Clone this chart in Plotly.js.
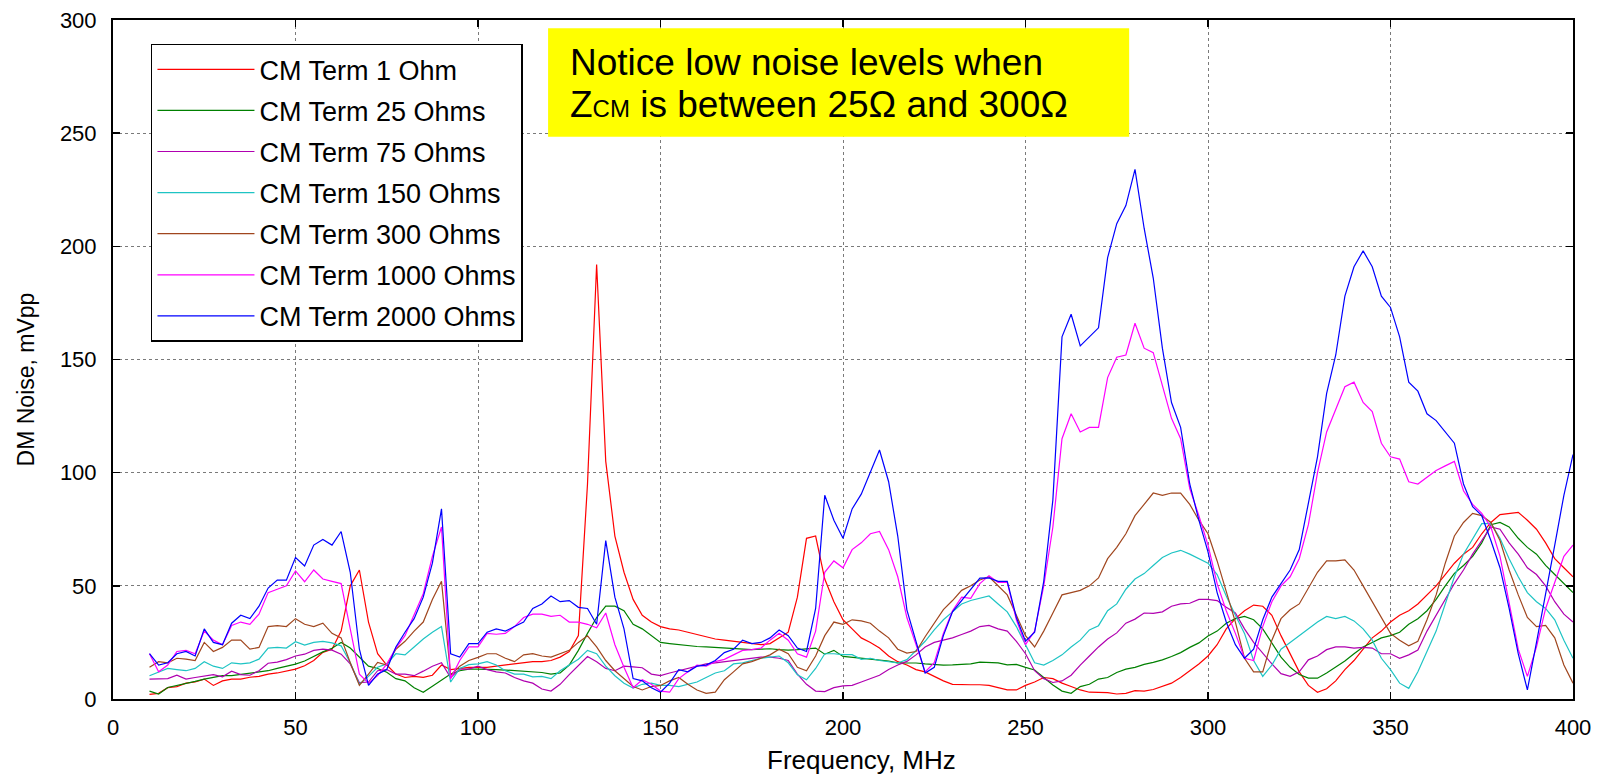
<!DOCTYPE html>
<html>
<head>
<meta charset="utf-8">
<script src="https://cdn.plot.ly/plotly-3.0.1.min.js"></script>
<style>
html,body{margin:0;padding:0;background:#fff;}
#chart{width:1600px;height:776px;}
</style>
</head>
<body>
<div id="chart"></div>
<script>
// Frequency axis (MHz)
const freq = [
 10,12.5,15,17.5, 20,22.5,25,27.5, 30,32.5,35,37.5, 40,42.5,45,47.5, 50,52.5,55,57.5,
 60,62.5,65,67.5, 70,72.5,75,77.5, 80,82.5,85,87.5, 90,92.5,95,97.5, 100,102.5,105,107.5,
 110,112.5,115,117.5, 120,122.5,125,127.5, 130,132.5,135,137.5, 140,142.5,145,147.5, 150,152.5,155,157.5,
 160,162.5,165,167.5, 170,172.5,175,177.5, 180,182.5,185,187.5, 190,192.5,195,197.5, 200,202.5,205,207.5,
 210,212.5,215,217.5, 220,222.5,225,227.5, 230,232.5,235,237.5, 240,242.5,245,247.5, 250,252.5,255,257.5,
 260,262.5,265,267.5, 270,272.5,275,277.5, 280,282.5,285,287.5, 290,292.5,295,297.5, 300,302.5,305,307.5,
 310,312.5,315,317.5, 320,322.5,325,327.5, 330,332.5,335,337.5, 340,342.5,345,347.5, 350,352.5,355,357.5,
 360,362.5,365,367.5, 370,372.5,375,377.5, 380,382.5,385,387.5, 390,392.5,395,397.5, 400];

const seriesNames = ["CM Term 1 Ohm","CM Term 25 Ohms","CM Term 75 Ohms","CM Term 150 Ohms",
  "CM Term 300 Ohms","CM Term 1000 Ohms","CM Term 2000 Ohms"];

const term1 = [
 2,2.5,5,5.5, 7,7.5,8.8,6, 8,8.8,8.8,9.6, 10,11,11.5,12.2, 13.2,14.7,17,20.6,
 22,30,50,57, 34,20,15,11, 9.5,10,9.6,10.5, 15,13,13.5,14, 14,14,14.5,15,
 15.4,16,16.5,16.5, 17,18.5,21,28, 95,192,105,72, 56,44,37,34, 32,31,30.5,29.5,
 28.5,27.5,26.5,26, 25.5,25,24.5,24, 24.5,27,29.5,45, 71,72,53,43, 35,31,27,25,
 22.5,19,16.5,15, 13,12,10,8, 6.5,6.3,6.3,6.3, 6,5,4,4, 6,7.5,9.5,9,
 7,5.5,4,3, 3,2.8,2.2,2.5, 3.7,3.5,4.2,5.5, 7,9.5,12.5,15.5, 19,24,31,35.5,
 39,41.5,41,37, 28,20,12,6, 3,4.5,8,13, 17,22,27,30, 34,37,39,42,
 46,50,55,60, 64,67,73,78, 81.5,82,82.5,79, 75,69,62,58, 54];

const term25 = [
 3.5,2.2,5.1,5.9, 6.8,7.8,8.8,9.6, 10.3,10.3,10.8,11.2, 11.8,12.5,13.5,14.5, 15.4,16.8,18.8,20.8,
 22.4,25,22.5,18.5, 14.5,13.5,11.8,9, 8,5,3,5.6, 8.5,11,12.5,13.2, 13.2,13.2,13,12.8,
 12.5,12.3,12,11.7, 11,11.5,15,21.5, 29,36,41,41, 39,33,31,28, 25,24.5,24,23.5,
 23.2,23,22.8,22.5, 22.4,22,21.8,22, 22.2,21.8,21.6,21.8, 22,22.5,19.8,21.5, 18.8,18.5,18,17.6,
 17.2,16.8,16,16, 15.9,15.5,15.1,15, 15.1,15.3,15.5,16.3, 16.3,16,15.1,15.3, 14,12.8,9.5,6.2,
 3.5,2.5,5.5,6.5, 8.8,9.5,11.7,13.2, 14,15.3,16.2,17.3, 18.8,20.5,22.8,24.8, 27.8,30,33.5,35.5,
 36.5,35,31,24.5, 18.5,14,10.8,9.2, 9.2,11.5,14,16.8, 20,23,25,27, 28,29.5,33,35.5,
 39,44,50,55.5, 59,63,69,77, 78,76,71,67, 64,59,55,51, 47];

const term75 = [
 8.8,8.8,9,10.5, 8.8,9.5,10,10.8, 9.8,12.3,10.8,10.5, 12.5,15.8,16.3,17.4, 19,19.8,21.5,22,
 21.6,19.8,15.5,7.2, 7.5,12.5,13,11, 11,10.3,12.3,14.5, 16,9.5,13.2,13.2, 14.5,13,12,11.5,
 9.5,8,7,4.4, 3.5,6.5,10.8,15, 18.8,16.5,13.5,12.5, 14.5,14.2,13.8,11, 10.3,11.5,12.5,13.5,
 14.8,15.5,16,16.5, 17.2,17.8,18,18.5, 18.5,18,17,11, 6.5,3.5,3.3,5, 5.8,6,7.5,9,
 10.5,13,15,16.6, 19.5,23,25,26, 27,28.5,30,32, 32.5,31,30,25.5, 20,12.5,9,7.3,
 8,10.5,15,19, 23,26.5,29.2,33.5, 35.3,38,37.8,38.5, 41,42,42.3,44, 44,43.5,40.5,38,
 31,25,20,15.5, 11.2,10,12,17.3, 19,21.8,23,23, 22.5,22.8,22.5,20, 20,18,19.5,21.6,
 30,37,44,51, 57,64,70,76, 75,69,64,58, 55,50,43,37.5, 34];

const term150 = [
 10.3,12,13.5,13, 12.5,13.5,16.5,14.5, 13.5,16,15.5,16, 17.6,22.5,22.8,22.5, 25.3,23.8,25,25.5,
 24.8,23.5,16,6.5, 10,14,15.5,20, 19.5,23,26.5,29.5, 32,7.5,13.5,15.2, 15.5,16.5,15,12.5,
 11,11,9.8,10, 9,12.5,15,17.6, 21.5,20,14.5,10.3, 7,4.8,6.5,7, 6,6,5.5,6.5,
 7.5,9.5,11.5,12.5, 15.5,16,17,18, 18.5,19,16,10.7, 8.5,13.5,20,20, 19.6,19.6,17.5,18,
 17,16.3,15.9,17.4, 21.5,25.5,30.5,35, 38.5,42,43.5,44.5, 45.5,42,38.5,32, 24,16,15,17,
 19.5,23,26,30.5, 32.4,39,42,48.5, 53,55.4,59,62.5, 64.5,65.7,64,62, 60,55,45.5,37,
 29,17,10,15, 22,25,28,31, 34,36.5,35.5,36.5, 34.5,31,26,18, 13,7,4.7,12,
 21,30,42,54, 64,71,77.5,77.6, 71,62,54,47, 43,40,35,26, 18];

const term300 = [
 14,16.5,16,18, 17.6,17,25,21, 22.8,26,26,22, 22.8,32,32.4,32, 35.5,33,32,33.5,
 29,27,16,6, 11,16.2,15,22, 25.5,30,34,44, 52,10.5,14.5,17, 18.4,20,20,18,
 16.5,19.5,20,19, 18.5,20,21.5,25, 27.9,23,17,12.5, 9,5.5,4,5.5, 6,8,9.5,6.5,
 4,2.5,3,8.5, 12,15.5,16.5,18, 19.5,22,20,14, 12.5,19,28,34, 33,35,34.5,33.5,
 30,27,22,20.3, 21,27.5,33.5,39.5, 43.5,48,50,52.6, 54,50,46,37, 28,23,30,38,
 46,47,48,50, 53.5,62,67,73, 81,86,91,90, 91,91,86,79, 73,61,47,34,
 18,12,12,26, 35.5,39.4,42,49, 56,61,61,61.5, 57,50,43,36, 29,26,23.5,25.5,
 35,46,60,72, 78,82,81,78, 70,57,46,36, 32,32.5,27,15, 7];

const term1000 = [
 20,12,15,21, 21.5,20,30,26, 24,32.5,34,33, 37.5,47,48.5,50, 56.6,51.8,57,53,
 52,51,31,11, 7,10.3,15.4,22.5, 28,37,46.5,63, 76,9,17,23, 23,29,28.6,29,
 32,36,37.5,37.5, 36.5,37,34,34, 33,31.5,38,24, 14,5,8.5,6.5, 3.5,3,9,12,
 15,14.5,16.5,17.5, 19.5,21.5,21.8,22.5, 26,29,26,20, 18.5,30,56,61, 58,66,69,73,
 74,66,54,36, 24,12,16,29, 39,45,44.5,51, 54.5,51.5,51.5,35, 24,30,50,76,
 115,126,118,120, 120,142,151,152, 166,155,153,139, 124,115,93,81, 68,51,39,29,
 18,17,32,43, 50,54,62,77, 100,118,128,138, 140,131,127,113, 107,106,96,95,
 98,101,103,105, 92,86,82,76, 63,42,22,10, 23,40,52,63, 68];

const term2000 = [
 20,15,16,20, 21,19,31,25, 24,33.5,37,35.5, 41,49,52.5,52.5, 62.5,58.8,68,70.5,
 68,74,56,22, 6,11,13,23, 29.5,35.5,45,60, 84,20,18.5,24.5, 24.5,29.5,31,30,
 32,34,40,42, 45.5,43,43.5,40.5, 40,33,70,45, 31,9,8,5, 3,7,13,12,
 14.5,15,17,20.5, 22,26,24.5,25, 27,30.5,28,22.5, 21,40,90,79, 71,84,90.5,100,
 110,96,72,39.4, 26,11.5,14,28, 38.5,43.5,48.5,53.4, 53.5,52,52,36, 25.5,29.5,52,88,
 160,170,156,160, 164,195,210,218, 234,208,186,155, 131,120,95,79, 65,47,34,24,
 18,22,35,45, 51,57,66,87, 107,135,152,178, 191,198,191,178, 173,160,140,136,
 126,123,118,113, 95,85,81,70, 58,40,20,4, 25,46,68,90, 108];

const seriesValues = [term1, term25, term75, term150, term300, term1000, term2000];
const seriesColors = ["#ff0000","#008000","#b000b0","#1ec4c4","#a0461e","#ff00ff","#0000ff"];

const xTicks = [0,50,100,150,200,250,300,350,400];
const yTicks = [0,50,100,150,200,250,300];

const traces = seriesNames.map((name, i) => ({
  x: freq,
  y: seriesValues[i],
  type: "scatter",
  mode: "lines",
  name: name,
  legendgroup: "g" + i,
  line: {color: seriesColors[i], width: 1.2}
}));

const FONT = "Liberation Sans, Arial, sans-serif";

const layout = {
  width: 1600, height: 776,
  margin: {l: 113, r: 27, t: 20, b: 77},
  paper_bgcolor: "#ffffff",
  plot_bgcolor: "#ffffff",
  font: {family: FONT, color: "#000"},
  showlegend: true,
  legend: {
    x: 0.026, y: 0.965, xanchor: "left", yanchor: "top",
    bgcolor: "#ffffff", bordercolor: "#000", borderwidth: 1.5,
    font: {family: FONT, size: 27, color: "#000"},
    tracegroupgap: 3,
    itemwidth: 97
  },
  xaxis: {
    range: [0, 400],
    tickvals: xTicks,
    ticktext: xTicks.map(String),
    showgrid: true, gridcolor: "#7a7a7a", griddash: "dot", gridwidth: 1,
    zeroline: false,
    showline: true, linecolor: "#000", linewidth: 2, mirror: "ticks",
    ticks: "inside", ticklen: 7, tickwidth: 1.5, tickcolor: "#000",
    tickfont: {family: FONT, size: 22, color: "#000"},
    ticklabelstandoff: 8
  },
  yaxis: {
    range: [0, 300],
    tickvals: yTicks,
    ticktext: yTicks.map(String),
    showgrid: true, gridcolor: "#7a7a7a", griddash: "dot", gridwidth: 1,
    zeroline: false,
    showline: true, linecolor: "#000", linewidth: 2, mirror: "ticks",
    ticks: "inside", ticklen: 7, tickwidth: 1.5, tickcolor: "#000",
    tickfont: {family: FONT, size: 22, color: "#000"},
    ticklabelstandoff: 10
  },
  shapes: [{
    type: "rect", xref: "paper", yref: "paper",
    x0: 0.298, x1: 0.696, y0: 0.828, y1: 0.988,
    fillcolor: "#ffff00", line: {width: 0}, layer: "above"
  }],
  annotations: [
    {xref: "paper", yref: "paper", x: 0.3116, y: 0.938, xanchor: "left", yanchor: "middle",
     showarrow: false, align: "left",
     text: "Notice low noise levels when",
     font: {family: FONT, size: 37, color: "#000"}},
    {xref: "paper", yref: "paper", x: 0.3116, y: 0.875, xanchor: "left", yanchor: "middle",
     showarrow: false, align: "left",
     text: "Z<span style=\"font-size:24px\">CM</span> is between 25\u03A9 and 300\u03A9",
     font: {family: FONT, size: 37, color: "#000"}},
    // axis titles
    {xref: "paper", yref: "paper", x: 0.513, y: -0.0898, xanchor: "center", yanchor: "middle",
     showarrow: false, text: "Frequency, MHz",
     font: {family: FONT, size: 26, color: "#000"}},
    {xref: "paper", yref: "paper", x: -0.0599, y: 0.47, xanchor: "center", yanchor: "middle",
     showarrow: false, textangle: -90, text: "DM Noise, mVpp",
     font: {family: FONT, size: 23, color: "#000"}}
  ]
};

Plotly.newPlot("chart", traces, layout, {displayModeBar: false, staticPlot: true});
</script>
</body>
</html>
